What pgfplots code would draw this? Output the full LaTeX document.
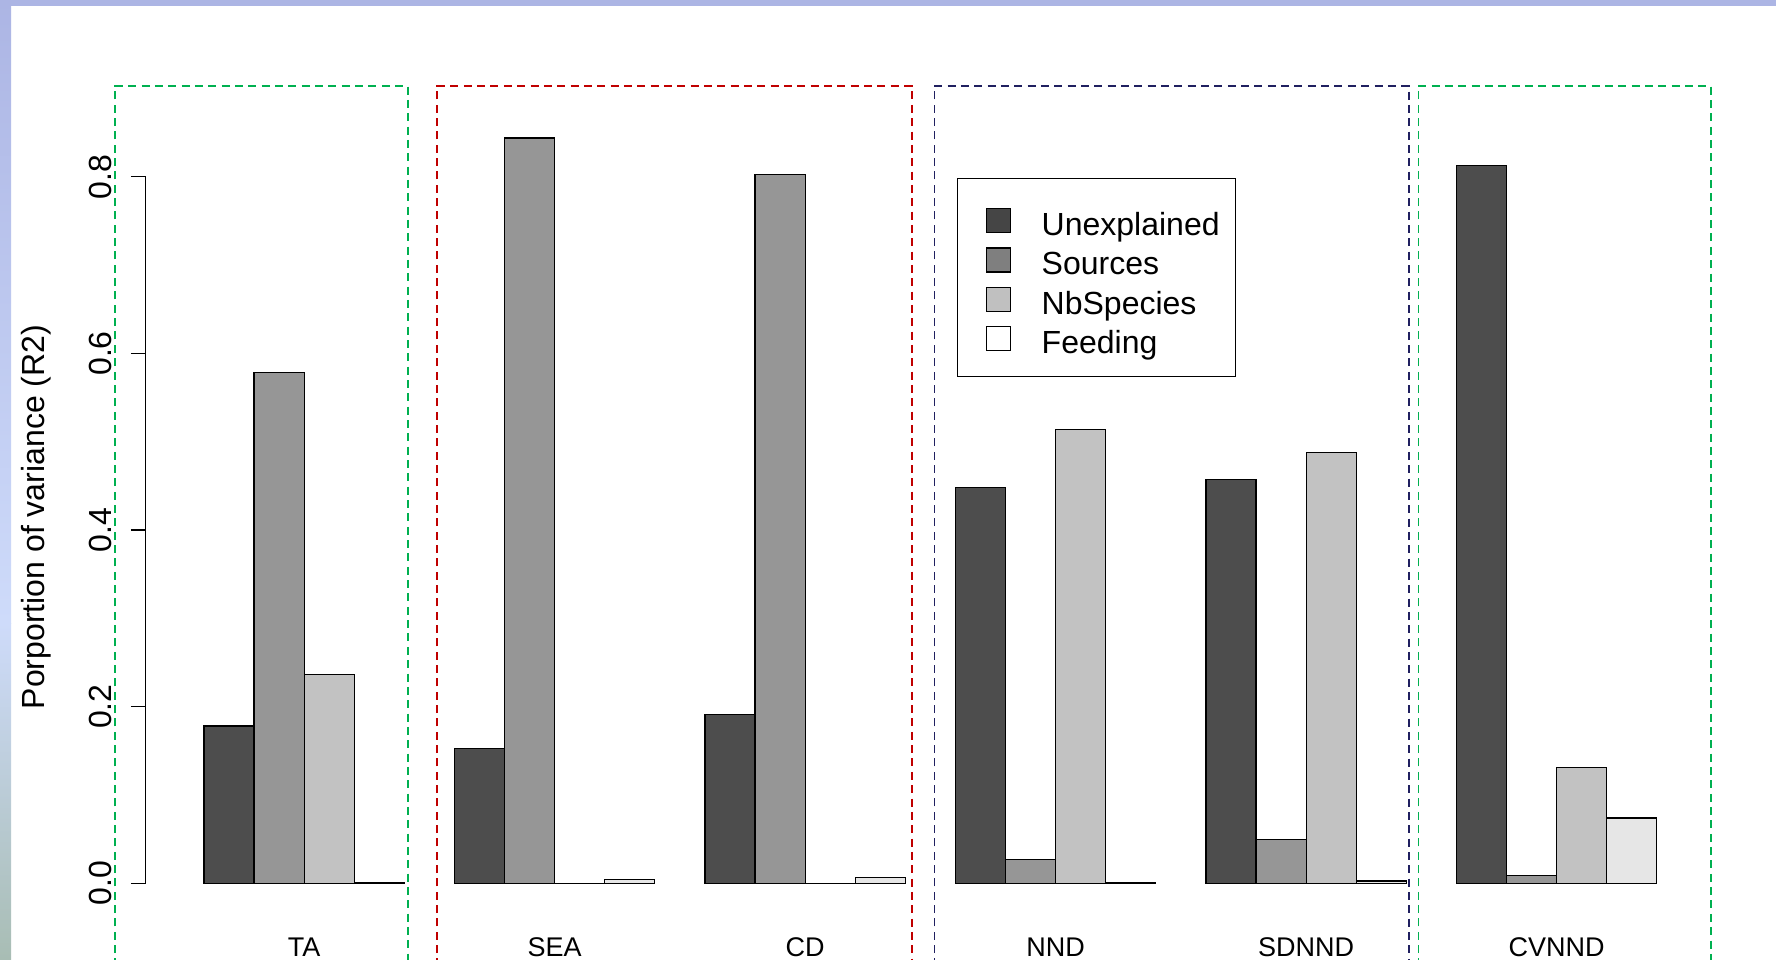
\documentclass[border=0pt]{standalone}
\usepackage{fontspec}
\setmainfont{Liberation Sans}
\setsansfont{Liberation Sans}
\usepackage{pgfplots}
\pgfplotsset{compat=1.18}
\definecolor{cUnex}{HTML}{4D4D4D}
\definecolor{cSrc}{HTML}{969696}
\definecolor{cNb}{HTML}{C2C2C2}
\definecolor{cFeed}{HTML}{E6E6E6}
\definecolor{lUnex}{HTML}{454545}
\definecolor{lSrc}{HTML}{7F7F7F}
\definecolor{lNb}{HTML}{C0C0C0}
\definecolor{bGreen}{RGB}{0,176,80}
\definecolor{bRed}{RGB}{192,0,0}
\definecolor{bNavy}{RGB}{32,32,96}
\definecolor{bandTop}{RGB}{172,181,228}
\definecolor{bandMid}{RGB}{206,219,250}
\definecolor{bandBot}{RGB}{168,189,180}
\pgfplotsset{
  legsq/.style={legend image code/.code={
    \path (0pt,11.2pt) (0pt,-6pt);
    \draw[black, line width=0.6pt, fill=#1] (6.2pt,-4.6pt) rectangle (18.2pt,7.4pt);}},
  mybar/.style={ybar, bar width=1, bar shift=0pt, draw=black, line width=0.6pt, fill=#1},
}
\begin{document}
\begin{tikzpicture}
\useasboundingbox (0,0) rectangle (888pt,479.5pt);
\clip (0,0) rectangle (888pt,479.5pt);
\fill[white] (0,0) rectangle (888pt,479.5pt);
\shade[bottom color=bandBot, top color=bandMid] (0,0) rectangle (5.5pt,168pt);
\shade[bottom color=bandMid, top color=bandTop] (0,168pt) rectangle (5.5pt,479.5pt);
\fill[bandTop] (0,476.5pt) rectangle (888pt,479.5pt);
\begin{axis}[
  at={(72.9pt,22.95pt)}, anchor=south west,
  scale only axis, width=784.55pt, height=402.45pt,
  xmin=-0.16, xmax=31.16, ymin=-0.0338, ymax=0.8778,
  clip=false,
  axis lines*=left, axis line style={draw=none},
  tick align=outside,
  major tick length=7.5pt,
  xtick={3,8,13,18,23,28},
  xticklabels={TA,SEA,CD,NND,SDNND,CVNND},
  x tick style={draw=none},
  xticklabel style={font=\fontsize{13.5}{16}\selectfont, anchor=base},
  xticklabel shift=14pt,
  ytick={0,0.2,0.4,0.6,0.8},
  yticklabels={0.0,0.2,0.4,0.6,0.8},
  y tick style={black, line width=0.6pt},
  yticklabel style={font=\fontsize{16}{19}\selectfont, rotate=90, anchor=base},
  yticklabel shift=9.5pt,
  ylabel={Porportion of variance (R2)},
  ylabel style={font=\fontsize{16}{19}\selectfont, at={(axis description cs:-0.07,0.492)}, anchor=center},
  legend cell align=left,
  legend style={at={(0.517,0.9135)}, anchor=north west, draw=black, line width=0.6pt, fill=white,
    font=\fontsize{16}{19}\selectfont, inner xsep=8pt, inner ysep=11pt,
    row sep=1.9pt, column sep=15.25pt,
    nodes={inner sep=0pt, text height=12pt, text depth=0pt}},
]
\draw[bGreen, line width=0.75pt, dash pattern=on 4pt off 2.67pt]
  (axis cs:-0.774,-0.2) -- (axis cs:-0.774,0.903) -- (axis cs:5.07,0.903) -- (axis cs:5.07,-0.2);
\draw[bRed, line width=0.75pt, dash pattern=on 4pt off 2.67pt]
  (axis cs:5.657,-0.2) -- (axis cs:5.657,0.903) -- (axis cs:15.13,0.903) -- (axis cs:15.13,-0.2);
\draw[bNavy, line width=0.75pt, dash pattern=on 4pt off 2.67pt]
  (axis cs:15.58,-0.2) -- (axis cs:15.58,0.903) -- (axis cs:25.05,0.903) -- (axis cs:25.05,-0.2);
\draw[bGreen, line width=0.75pt, dash pattern=on 4pt off 2.67pt]
  (axis cs:25.24,-0.2) -- (axis cs:25.24,0.903) -- (axis cs:31.08,0.903) -- (axis cs:31.08,-0.2);
\draw[black, line width=0.6pt] (axis cs:-0.16,0) -- (axis cs:-0.16,0.8);

\addplot[mybar=cUnex, legsq=lUnex] coordinates {(1.5,0.178) (6.5,0.153) (11.5,0.191) (16.5,0.448) (21.5,0.457) (26.5,0.813)};
\addlegendentry{Unexplained}
\addplot[mybar=cSrc, legsq=lSrc] coordinates {(2.5,0.578) (7.5,0.844) (12.5,0.803) (17.5,0.027) (22.5,0.0495) (27.5,0.0087)};
\addlegendentry{Sources}
\addplot[mybar=cNb, legsq=lNb] coordinates {(3.5,0.236) (8.5,0.0) (13.5,0.0) (18.5,0.514) (23.5,0.488) (28.5,0.131)};
\addlegendentry{NbSpecies}
\addplot[mybar=cFeed, legsq=white] coordinates {(4.5,0.001) (9.5,0.0045) (14.5,0.0064) (19.5,0.001) (24.5,0.0025) (29.5,0.074)};
\addlegendentry{Feeding}
\end{axis}
\end{tikzpicture}
\end{document}
